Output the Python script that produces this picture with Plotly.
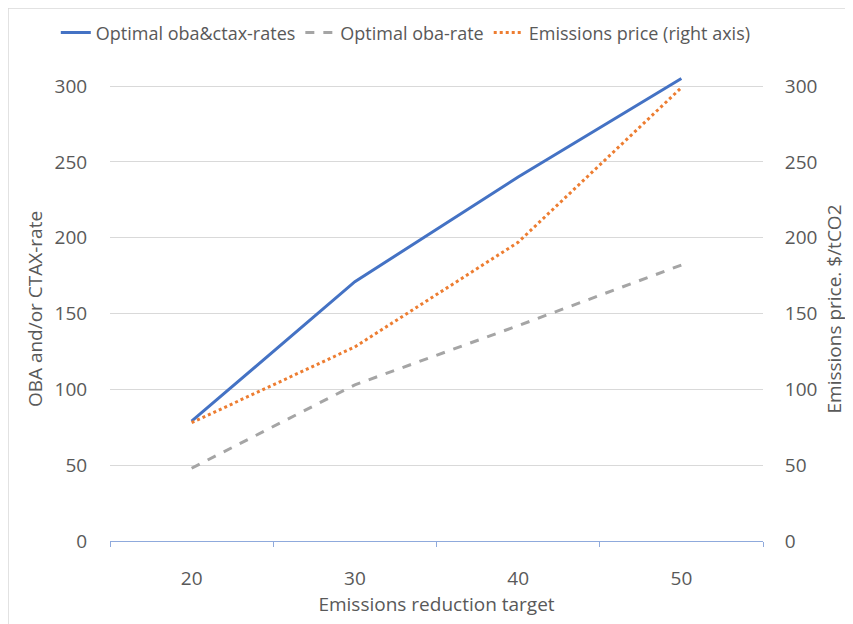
import plotly.graph_objects as go

categories = ["20", "30", "40", "50"]
oba_ctax = [79, 171, 240, 305]
oba_only = [48, 103, 142, 182]
emis_price = [78, 128, 197, 299]
tick_vals = [0, 50, 100, 150, 200, 250, 300]

font_family = "Open Sans, Noto Sans, sans-serif"
txt = "#595959"
fs = 19

fig = go.Figure()
fig.add_trace(go.Scatter(x=categories, y=oba_ctax, mode="lines", name="Optimal oba&ctax-rates",
                         line=dict(color="#4472C4", width=3)))
fig.add_trace(go.Scatter(x=categories, y=oba_only, mode="lines", name="Optimal oba-rate",
                         line=dict(color="#A5A5A5", width=3, dash="dash")))
fig.add_trace(go.Scatter(x=categories, y=emis_price, mode="lines", name="Emissions price (right axis)",
                         line=dict(color="#ED7D31", width=3, dash="dot"), yaxis="y2"))

fig.update_layout(
    width=845, height=616,
    margin=dict(l=102, r=90, t=69, b=83, autoexpand=False),
    paper_bgcolor="white", plot_bgcolor="white",
    font=dict(family=font_family, color=txt, size=fs),
    showlegend=True,
    legend=dict(orientation="h", xref="paper", x=-0.083, xanchor="left",
                yref="paper", y=1.095, yanchor="middle",
                font=dict(size=18, color=txt), tracegroupgap=0),
    xaxis=dict(type="category", range=[-0.5, 3.5], showline=True, linecolor="#8FAADC", linewidth=1,
               ticks="outside", tickson="boundaries", tickcolor="#8FAADC", ticklen=5,
               ticklabelstandoff=20,
               showgrid=False, tickfont=dict(size=fs, color=txt),
               title=dict(text="Emissions reduction target", font=dict(size=fs, color=txt), standoff=2)),
    yaxis=dict(range=[0, 306], tickvals=tick_vals, showgrid=True, gridcolor="#D9D9D9", gridwidth=1,
               zeroline=False, showline=False, ticks="outside", ticklen=0, ticklabelstandoff=18,
               tickfont=dict(size=fs, color=txt),
               title=dict(text="OBA and/or CTAX-rate", font=dict(size=fs, color=txt), standoff=6)),
    yaxis2=dict(range=[0, 306], tickvals=tick_vals, overlaying="y", side="right", showgrid=False,
                zeroline=False, showline=False, ticks="outside", ticklen=0, ticklabelstandoff=17,
                tickfont=dict(size=fs, color=txt),
                title=dict(text="Emissions price. $/tCO2", font=dict(size=fs, color=txt), standoff=11)),
    shapes=[dict(type="rect", xref="paper", yref="paper", x0=-0.1562, x1=2, y0=-1, y1=1.1487,
                 line=dict(color="#D9D9D9", width=1.5), layer="below")],
)

fig.write_html("out.html")
